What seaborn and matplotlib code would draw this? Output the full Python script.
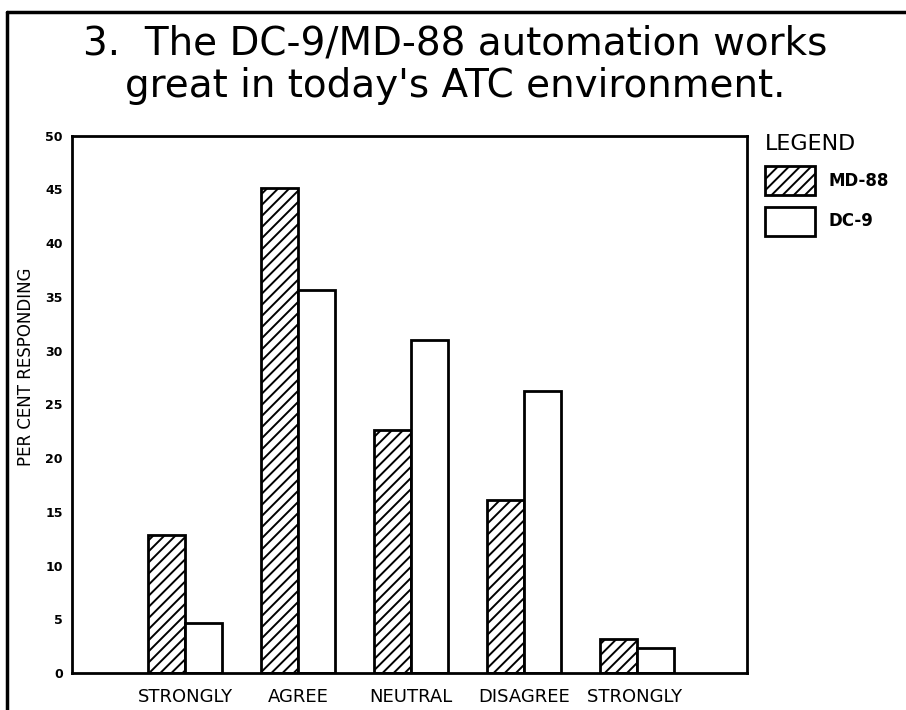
import pandas as pd
import seaborn as sns
import matplotlib.pyplot as plt

# Survey answers
categories = ['STRONGLY', 'AGREE', 'NEUTRAL', 'DISAGREE', 'STRONGLY ']
md88 = [12.8, 45.1, 22.6, 16.1, 3.2]
dc9 = [4.7, 35.6, 31.0, 26.2, 2.3]
series = ['MD-88', 'DC-9']

df = pd.DataFrame({
    'answer': categories * 2,
    'pct': md88 + dc9,
    'aircraft': [series[0]] * len(md88) + [series[1]] * len(dc9),
})

sns.set_style('white')
plt.rcParams['hatch.linewidth'] = 1.4
for k in ['text.color', 'axes.labelcolor', 'xtick.color', 'ytick.color']:
    plt.rcParams[k] = 'black'

fig = plt.figure(figsize=(9.06, 7.10), dpi=100)
ax = fig.add_axes([0.0795, 0.052, 0.745, 0.757])

sns.barplot(data=df, x='answer', y='pct', hue='aircraft', order=categories,
            hue_order=series, palette=['white', 'white'], edgecolor='black',
            linewidth=2, width=0.654, gap=0, ax=ax)

# hatch the MD-88 bars (first hue level)
for bar in ax.containers[0]:
    bar.set_hatch('///')

ax.set_xlim(-1.0, 4.97)
ax.set_ylim(0, 50)
ax.set_yticks(range(0, 51, 5))
ax.tick_params(axis='both', direction='inout', length=9, width=1.5, color='black')
ax.tick_params(axis='y', labelsize=9, pad=2)
ax.tick_params(axis='x', labelsize=13, pad=6)
for lab in ax.get_yticklabels():
    lab.set_fontweight('bold')
for sp in ax.spines.values():
    sp.set_linewidth(2)
    sp.set_color('black')

ax.set_xlabel('')
ax.set_ylabel('PER CENT RESPONDING', fontsize=12)
ax.yaxis.set_label_coords(-0.055, 0.57)

handles, labels = ax.get_legend_handles_labels()
handles[0].set_hatch('///')
leg = ax.legend(handles, labels, title='LEGEND', loc='upper left',
                bbox_to_anchor=(1.005, 1.03), frameon=False,
                handlelength=3.0, handleheight=2.3, labelspacing=0.7,
                handletextpad=0.8,
                prop={'weight': 'bold', 'size': 12}, alignment='left')
leg.get_title().set_fontsize(16)

fig.text(0.502, 0.965, "3.  The DC-9/MD-88 automation works\ngreat in today's ATC environment.",
         ha='center', va='top', fontsize=28, linespacing=1.15)

# outer frame
fig.add_artist(plt.Line2D([0.008, 0.008], [0.0, 0.983], color='black', lw=2.5))
fig.add_artist(plt.Line2D([0.008, 1.0], [0.983, 0.983], color='black', lw=2.5))

fig.savefig('out.png', dpi=100)
